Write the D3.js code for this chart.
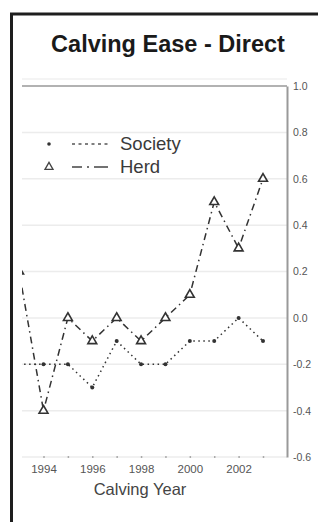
<!DOCTYPE html>
<html>
<head>
<meta charset="utf-8">
<script src="https://cdn.jsdelivr.net/npm/d3@7"></script>
<style>
  body { margin: 0; background: #fff; }
  svg { display: block; font-family: "Liberation Sans", Arial, sans-serif; }
</style>
</head>
<body>
<div id="chart"></div>
<script>
const years = [1993, 1994, 1995, 1996, 1997, 1998, 1999, 2000, 2001, 2002, 2003]
const society = [-0.2, -0.2, -0.2, -0.3, -0.1, -0.2, -0.2, -0.1, -0.1, 0.0, -0.1]
const herd = [0.2, -0.4, 0.0, -0.1, 0.0, -0.1, 0.0, 0.1, 0.5, 0.3, 0.6]
const yTicks = [-0.6, -0.4, -0.2, 0.0, 0.2, 0.4, 0.6, 0.8, 1.0]
const xTicks = [1994, 1995, 1996, 1997, 1998, 1999, 2000, 2001, 2002, 2003]

const W = 318, H = 522
const plot = {left: 22, right: 287, top: 86, bottom: 457}

const svg = d3.select("#chart")
  .append("svg")
  .attr("width", W)
  .attr("height", H)

svg.append("rect")
  .attr("width", W).attr("height", H)
  .attr("fill", "#fff")

// outer frame, runs off the right and bottom edges
svg.append("rect")
  .attr("x", 11.5).attr("y", 14)
  .attr("width", 400).attr("height", 600)
  .attr("fill", "none")
  .attr("stroke", "#1e1e1e")
  .attr("stroke-width", 3)

svg.append("text")
  .attr("x", 168)
  .attr("y", 52)
  .attr("text-anchor", "middle")
  .attr("font-size", "23.5px")
  .attr("font-weight", "bold")
  .attr("fill", "#1a1a1a")
  .text("Calving Ease - Direct")

const x = d3.scaleLinear()
  .domain([1994, 2003])
  .range([43.5, 263])

const y = d3.scaleLinear()
  .domain([-0.6, 1.0])
  .range([plot.bottom, plot.top])

svg.append("clipPath")
  .attr("id", "clip")
  .append("rect")
  .attr("x", plot.left).attr("y", plot.top - 10)
  .attr("width", plot.right - plot.left).attr("height", plot.bottom - plot.top + 20)

// faint line above the box
svg.append("line")
  .attr("x1", plot.left).attr("x2", plot.right)
  .attr("y1", 79).attr("y2", 79)
  .attr("stroke", "#f0f0f0")
  .attr("stroke-width", 1.5)

// grid
svg.append("g")
  .selectAll("line")
  .data(yTicks.filter(d => d < 1))
  .enter()
  .append("line")
  .attr("x1", plot.left).attr("x2", plot.right)
  .attr("y1", d => y(d)).attr("y2", d => y(d))
  .attr("stroke", "#ececec")
  .attr("stroke-width", 1.5)

svg.append("line")
  .attr("x1", plot.left).attr("x2", plot.right)
  .attr("y1", y(1.0)).attr("y2", y(1.0))
  .attr("stroke", "#999")
  .attr("stroke-width", 1.5)

// right axis
const yAxis = d3.axisRight(y)
  .tickValues(yTicks)
  .tickSize(0)
  .tickPadding(6)
  .tickFormat(d => d.toFixed(1))

const gy = svg.append("g")
  .attr("transform", "translate(" + plot.right + ",0)")
  .call(yAxis)
gy.select(".domain").attr("stroke", "#999").attr("stroke-width", 2)
gy.selectAll("text").attr("font-size", "10.5px").attr("fill", "#555")

// bottom axis
const xAxis = d3.axisBottom(x)
  .tickValues(xTicks)
  .tickSize(2)
  .tickPadding(7)
  .tickFormat(d => d % 2 === 0 ? d : "")

const gx = svg.append("g")
  .attr("transform", "translate(0," + (plot.bottom - 1) + ")")
  .call(xAxis)
gx.select(".domain").remove()
gx.selectAll("line").attr("stroke", "#aaa").attr("stroke-width", 1.5)
gx.selectAll("text").attr("font-size", "11.5px").attr("fill", "#555")

svg.append("text")
  .attr("x", 140)
  .attr("y", 495)
  .attr("text-anchor", "middle")
  .attr("font-size", "16.5px")
  .attr("fill", "#444")
  .text("Calving Year")

// series
const g = svg.append("g").attr("clip-path", "url(#clip)")

const line = d3.line()
  .x((d, i) => x(years[i]))
  .y(d => y(d))

g.append("path")
  .datum(society)
  .attr("d", line)
  .attr("fill", "none")
  .attr("stroke", "#333")
  .attr("stroke-width", 1.5)
  .attr("stroke-dasharray", "1.5,3.5")

g.append("path")
  .datum(herd)
  .attr("d", line)
  .attr("fill", "none")
  .attr("stroke", "#333")
  .attr("stroke-width", 1.5)
  .attr("stroke-dasharray", "7,4,1.5,4")

g.selectAll(".dot")
  .data(society)
  .enter()
  .append("circle")
  .attr("class", "dot")
  .attr("cx", (d, i) => x(years[i]))
  .attr("cy", d => y(d))
  .attr("r", 2)
  .attr("fill", "#333")

const tri = d3.symbol().type(d3.symbolTriangle).size(34)

g.selectAll(".tri")
  .data(herd)
  .enter()
  .append("path")
  .attr("class", "tri")
  .attr("d", tri)
  .attr("transform", (d, i) => "translate(" + x(years[i]) + "," + y(d) + ")")
  .attr("fill", "#fff")
  .attr("stroke", "#333")
  .attr("stroke-width", 1.6)

// legend
const legend = svg.append("g")
legend.append("circle")
  .attr("cx", 49).attr("cy", 144).attr("r", 1.8).attr("fill", "#333")
legend.append("line")
  .attr("x1", 72).attr("x2", 108).attr("y1", 144).attr("y2", 144)
  .attr("stroke", "#555").attr("stroke-width", 1.3)
  .attr("stroke-dasharray", "3,3.5")
legend.append("text")
  .attr("x", 120).attr("y", 150)
  .attr("font-size", "18.5px").attr("fill", "#3a3a3a")
  .text("Society")

legend.append("path")
  .attr("d", d3.symbol().type(d3.symbolTriangle).size(28))
  .attr("transform", "translate(49,167)")
  .attr("fill", "#fff").attr("stroke", "#444").attr("stroke-width", 1.3)
legend.append("line")
  .attr("x1", 72).attr("x2", 108).attr("y1", 167).attr("y2", 167)
  .attr("stroke", "#444").attr("stroke-width", 1.5)
  .attr("stroke-dasharray", "10,5,2,5,14")
legend.append("text")
  .attr("x", 120).attr("y", 173)
  .attr("font-size", "18.5px").attr("fill", "#3a3a3a")
  .text("Herd")
</script>
</body>
</html>
